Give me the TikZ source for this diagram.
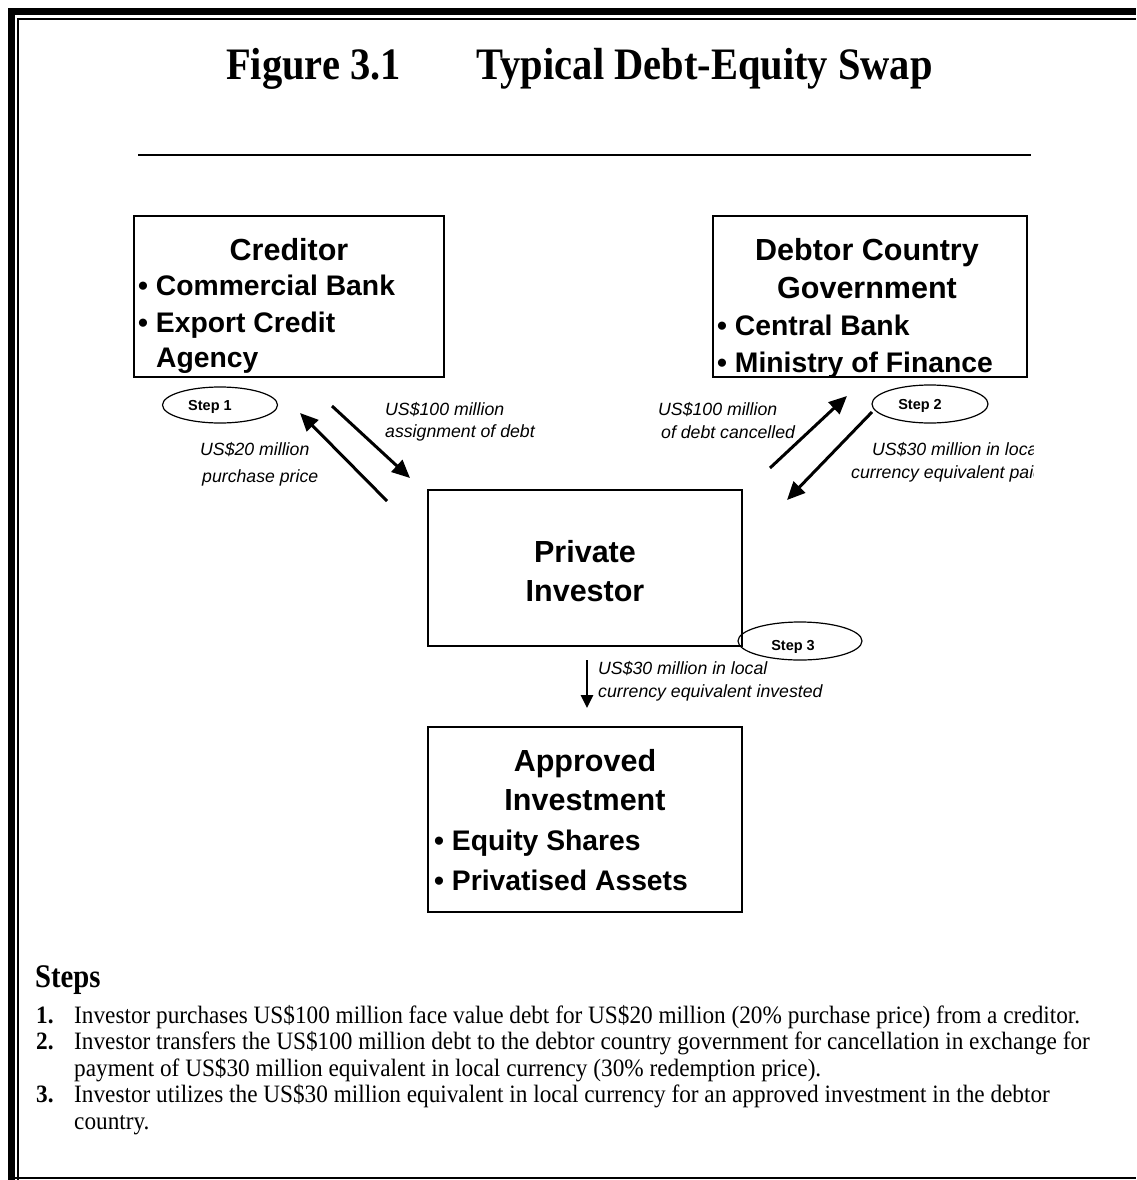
\documentclass[tikz,border=0pt]{standalone}
\usepackage{fontspec}
\setmainfont{Liberation Sans}
\newfontfamily\serifT[FakeStretch=0.9]{Liberation Serif}
\newfontfamily\serifB[FakeStretch=0.93]{Liberation Serif}
\newfontfamily\serifH[FakeStretch=0.87]{Liberation Serif}
\usetikzlibrary{arrows.meta,shapes.geometric}
\tikzset{
  boxtxt/.style={font=\bfseries\fontsize{30.5}{35}\selectfont, inner sep=0pt, anchor=base},
  boxtxtl/.style={font=\bfseries\fontsize{28.3}{33}\selectfont, inner sep=0pt, anchor=base west},
  lab/.style={font=\itshape\fontsize{17.7}{21}\selectfont, inner sep=0pt, anchor=base west},
  steplab/.style={font=\bfseries\fontsize{14.5}{17}\selectfont, inner sep=0pt},
  stepell/.style={draw, ellipse, line width=1.2pt, inner sep=0pt},
  framebox/.style={draw, line width=1.3pt, inner sep=0pt},
  flow/.style={line width=3pt, -{Triangle[length=18pt,width=16pt]}},
  flowsmall/.style={line width=2.6pt, -{Triangle[length=13pt,width=12pt]}},
  body/.style={font=\serifB\fontsize{25}{30}\selectfont, inner sep=0pt, anchor=base west},
  num/.style={font=\serifB\bfseries\fontsize{25}{30}\selectfont, inner sep=0pt, anchor=base west},
}
\begin{document}
\begin{tikzpicture}[x=1pt,y=-1pt]
\useasboundingbox (0,0) rectangle (1136,1180);
% page frame
\draw[line width=7pt] (11.2,1180) -- (11.2,11.5) -- (1136,11.5);
\draw[line width=1.8pt] (18.3,1180) -- (18.3,19.2) -- (1136,19.2);
\draw[line width=2.5pt] (8,1178.2) -- (1136,1178.2);

% title
\node[font=\serifT\bfseries\fontsize{45}{50}\selectfont, inner sep=0pt, anchor=base west] (title1) at (226,80) {Figure 3.1};
\node[font=\serifT\bfseries\fontsize{45}{50}\selectfont, inner sep=0pt, anchor=base east] (title2) at (933,80) {Typical Debt-Equity Swap};
\coordinate (ruleL) at (138,155);
\coordinate (ruleR) at (1031,155);
\draw[line width=1.5pt] (ruleL) -- (ruleR);

% boxes
\node[framebox, minimum width=310pt, minimum height=161pt] (cred) at (289,296.5) {};
\node[framebox, minimum width=314pt, minimum height=161pt] (debt) at (870,296.5) {};
\node[framebox, minimum width=314pt, minimum height=156pt] (inv) at (585,568) {};
\node[framebox, minimum width=314pt, minimum height=185pt] (appr) at (585,819.5) {};

% box texts
\node[boxtxt] (c1) at (289,260) {Creditor};
\node[boxtxtl] (c2) at (138,295) {\textbullet\ Commercial Bank};
\node[boxtxtl] (c3) at (138,332) {\textbullet\ Export Credit};
\node[boxtxtl] (c4) at (156,367) {Agency};

\node[boxtxt] (d1) at (867,260) {Debtor Country};
\node[boxtxt] (d2) at (867,298) {Government};
\node[boxtxtl] (d3) at (717,335) {\textbullet\ Central Bank};
\node[boxtxtl] (d4) at (717,372) {\textbullet\ Ministry of Finance};

\node[boxtxt] (i1) at (585,562) {Private};
\node[boxtxt] (i2) at (585,601) {Investor};

\node[boxtxt] (a1) at (585,771) {Approved};
\node[boxtxt] (a2) at (585,810) {Investment};
\node[boxtxtl] (a3) at (434,850) {\textbullet\ Equity Shares};
\node[boxtxtl] (a4) at (434,890) {\textbullet\ Privatised Assets};

% step ellipses
\node[stepell, minimum width=115pt, minimum height=36pt] (e1) at (220,405) {};
\node[steplab] (e1t) at (210,406.5) {Step 1};
\node[stepell, minimum width=116pt, minimum height=38pt] (e2) at (930,404) {};
\node[steplab] (e2t) at (920,406) {Step 2};
\node[stepell, minimum width=124pt, minimum height=38pt] (e3) at (800,641) {};
\node[steplab] (e3t) at (793,647) {Step 3};

% arrows
\coordinate (a1s) at (332,406);
\coordinate (a1e) at (410,478);
\coordinate (a2s) at (387,501);
\coordinate (a2e) at (300,413);
\coordinate (a3s) at (770,468);
\coordinate (a3e) at (847,396);
\coordinate (a4s) at (872,412);
\coordinate (a4e) at (787,500);
\coordinate (a5s) at (587,660);
\coordinate (a5e) at (587,708);
\draw[flow] (a1s) -- (a1e);
\draw[flow] (a2s) -- (a2e);
\draw[flow] (a3s) -- (a3e);
\draw[flow] (a4s) -- (a4e);
\draw[flowsmall] (a5s) -- (a5e);

% arrow labels
\node[lab] (l1) at (200,455) {US\$20 million};
\node[lab] (l2) at (202,482) {purchase price};
\node[lab] (l3) at (385,415) {US\$100 million};
\node[lab] (l4) at (385,437) {assignment of debt};
\node[lab] (l5) at (658,415) {US\$100 million};
\node[lab] (l6) at (661,438) {of debt cancelled};
\begin{scope}
\clip (0,0) rectangle (1033,1180);
\node[lab] (l7) at (872,455) {US\$30 million in local};
\node[lab] (l8) at (851,478) {currency equivalent paid};
\end{scope}
\node[lab] (l9) at (598,674) {US\$30 million in local};
\node[lab] (l10) at (598,697) {currency equivalent invested};

% steps text
\node[font=\serifH\bfseries\fontsize{33}{38}\selectfont, inner sep=0pt, anchor=base west] (stepsh) at (35,987) {Steps};
\node[num] (n1) at (36,1023) {1.};
\node[body] (s1) at (74,1023) {Investor purchases US\$100 million face value debt for US\$20 million (20\% purchase price) from a creditor.};
\node[num] (n2) at (36,1049.5) {2.};
\node[body] (s2) at (74,1049.5) {Investor transfers the US\$100 million debt to the debtor country government for cancellation in exchange for};
\node[body] (s2b) at (74,1076) {payment of US\$30 million equivalent in local currency (30\% redemption price).};
\node[num] (n3) at (36,1102.5) {3.};
\node[body] (s3) at (74,1102.5) {Investor utilizes the US\$30 million equivalent in local currency for an approved investment in the debtor};
\node[body] (s3b) at (74,1129) {country.};
\end{tikzpicture}
\end{document}
